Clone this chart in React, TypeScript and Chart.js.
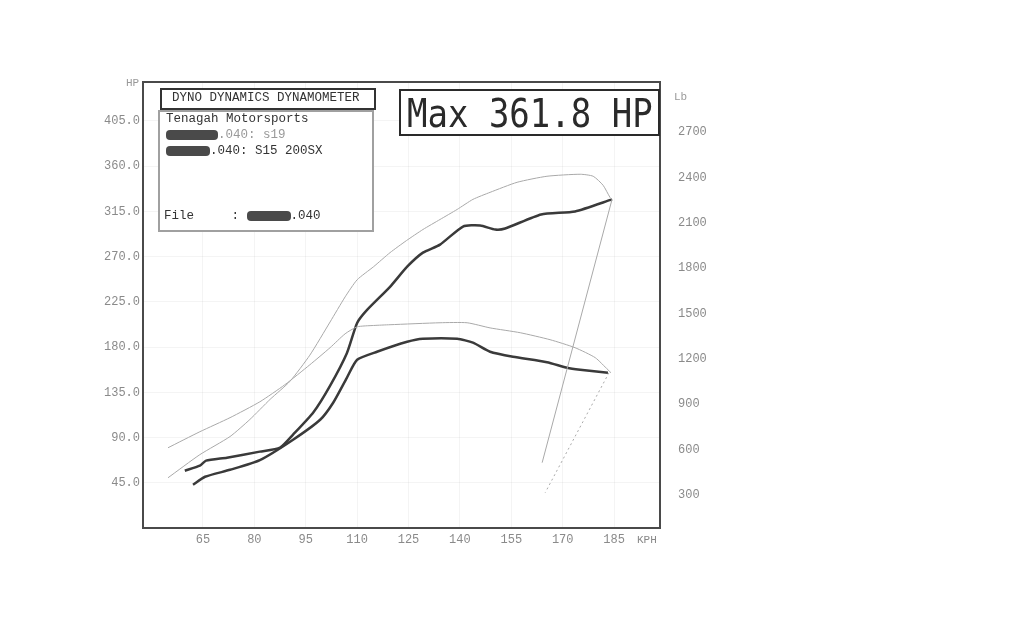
import React, { useEffect, useRef } from "react";
import { Chart, registerables } from "chart.js";
Chart.register(...registerables);

const speedTicks = [65, 80, 95, 110, 125, 140, 155, 170, 185];
const hpTicks = [45, 90, 135, 180, 225, 270, 315, 360, 405];
const lbTicks = [300, 600, 900, 1200, 1500, 1800, 2100, 2400, 2700];

const run1PowerKph = [54.8, 64.1, 72.9, 78.7, 84.6, 90.4, 96.2, 102.1, 106.5, 110.0, 114.8, 119.6, 124.4, 129.2, 134.2, 139.2, 143.8, 148.8, 156.7, 165.4, 175.1, 178.9, 181.8, 183.8, 184.4];
const run1PowerHp = [50, 73, 91, 108, 128, 146, 172, 205, 230, 247, 260, 274, 286, 297, 307, 317, 327, 334, 344, 350, 352, 350, 341, 329, 327];

const run2PowerKph = [59.7, 64.1, 65.9, 72.0, 81.6, 87.5, 91.3, 97.2, 102.0, 107.0, 110.0, 112.9, 119.6, 124.6, 129.2, 134.2, 140.9, 145.9, 150.3, 153.2, 163.7, 173.6, 184.4];
const run2PowerHp = [57, 62, 67, 70, 76, 80, 93, 115, 141, 174, 204, 217, 240, 260, 274, 282, 300, 301, 297, 298, 312, 315, 327];

const run1TorqueKph = [54.8, 64.1, 72.9, 81.6, 88.9, 96.2, 102.1, 106.5, 110.0, 114.8, 119.6, 134.2, 142.1, 148.8, 157.6, 166.3, 173.6, 179.5, 183.2, 184.1];
const run1TorqueLb = [611, 717, 810, 915, 1028, 1160, 1273, 1365, 1411, 1420, 1425, 1438, 1438, 1404, 1372, 1326, 1273, 1207, 1127, 1107];

const run2TorqueKph = [62.1, 65.6, 72.9, 81.6, 91.3, 99.2, 103.0, 107.0, 110.0, 115.8, 124.6, 129.2, 139.2, 143.8, 148.8, 155.5, 165.4, 171.3, 175.1, 183.2];
const run2TorqueLb = [366, 419, 465, 529, 664, 796, 909, 1074, 1193, 1246, 1312, 1332, 1332, 1306, 1246, 1213, 1177, 1140, 1127, 1107];

const coastPowerKph = [184.4, 164.0];
const coastPowerHp = [327, 65];
const coastTorqueKph = [183.5, 164.9];
const coastTorqueLb = [1107, 314];

const pts = (xs: number[], ys: number[]) => xs.map((x, i) => ({ x, y: ys[i] }));

const DARK = "#3a3a3a";
const LIGHT = "#a9a9a9";
const MONO = "'Liberation Mono', 'DejaVu Sans Mono', monospace";

const framePlugin = {
  id: "frame",
  afterDraw(chart: any) {
    const { ctx, chartArea } = chart;
    ctx.save();
    ctx.strokeStyle = "#4a4a4a";
    ctx.lineWidth = 2;
    ctx.strokeRect(chartArea.left, chartArea.top, chartArea.right - chartArea.left, chartArea.bottom - chartArea.top);
    ctx.restore();
  },
};

function Blob({ w }: { w: number }) {
  return (
    <span
      style={{
        display: "inline-block",
        width: w,
        height: 10,
        background: "#4a4a4a",
        borderRadius: 4,
        verticalAlign: "middle",
        filter: "blur(0.7px)",
      }}
    />
  );
}

export default function App() {
  const ref = useRef<HTMLCanvasElement | null>(null);
  useEffect(() => {
    if (!ref.current) return;
    const tickFont = { family: MONO, size: 12 };
    const chart = new Chart(ref.current, {
      type: "line",
      data: {
        datasets: [
          { label: "Run 1 power", data: pts(run1PowerKph, run1PowerHp), borderColor: LIGHT, borderWidth: 1, pointRadius: 0, tension: 0.2, yAxisID: "y" },
          { label: "Run 1 coast power", data: pts(coastPowerKph, coastPowerHp), borderColor: LIGHT, borderWidth: 1, pointRadius: 0, tension: 0, yAxisID: "y" },
          { label: "Run 1 tractive", data: pts(run1TorqueKph, run1TorqueLb), borderColor: LIGHT, borderWidth: 1, pointRadius: 0, tension: 0.2, yAxisID: "y1" },
          { label: "Run 1 coast tractive", data: pts(coastTorqueKph, coastTorqueLb), borderColor: LIGHT, borderWidth: 1, borderDash: [2, 3], pointRadius: 0, tension: 0, yAxisID: "y1" },
          { label: "Run 2 power", data: pts(run2PowerKph, run2PowerHp), borderColor: DARK, borderWidth: 2.5, pointRadius: 0, tension: 0.2, yAxisID: "y" },
          { label: "Run 2 tractive", data: pts(run2TorqueKph, run2TorqueLb), borderColor: DARK, borderWidth: 2.5, pointRadius: 0, tension: 0.2, yAxisID: "y1" },
        ],
      },
      options: {
        animation: false,
        responsive: false,
        maintainAspectRatio: false,
        layout: { padding: { top: 82, left: 0, right: 0, bottom: 0 } },
        plugins: { legend: { display: false }, tooltip: { enabled: false } },
        scales: {
          x: {
            type: "linear",
            min: 47.5,
            max: 198.4,
            afterBuildTicks: (s: any) => { s.ticks = speedTicks.map((v) => ({ value: v })); },
            afterFit: (s: any) => { s.height = 94; },
            grid: { color: "rgba(0,0,0,0.045)", drawTicks: false },
            border: { display: false },
            ticks: { color: "#8a8a8a", font: tickFont, padding: 5, autoSkip: false, maxRotation: 0, callback: (v: any) => String(v) },
          },
          y: {
            position: "left",
            min: 0,
            max: 443.8,
            afterBuildTicks: (s: any) => { s.ticks = hpTicks.map((v) => ({ value: v })); },
            afterFit: (s: any) => { s.width = 143; },
            grid: { color: "rgba(0,0,0,0.045)", drawTicks: false },
            border: { display: false },
            ticks: { color: "#8a8a8a", font: tickFont, padding: 3, callback: (v: any) => Number(v).toFixed(1) },
          },
          y1: {
            position: "right",
            min: 80,
            max: 3031,
            afterBuildTicks: (s: any) => { s.ticks = lbTicks.map((v) => ({ value: v })); },
            afterFit: (s: any) => { s.width = 364; },
            grid: { display: false, drawTicks: false },
            border: { display: false },
            ticks: { color: "#8a8a8a", font: tickFont, padding: 18, callback: (v: any) => String(v) },
          },
        },
      },
      plugins: [framePlugin],
    } as any);
    return () => chart.destroy();
  }, []);

  const txt: React.CSSProperties = { position: "absolute", fontFamily: MONO, fontSize: 12.5, lineHeight: "13px", color: "#333", whiteSpace: "pre" };

  return (
    <div style={{ position: "fixed", left: 0, top: 0, width: 1024, height: 622, background: "#fff" }}>
      <canvas ref={ref} width={1024} height={622} style={{ position: "absolute", left: 0, top: 0, width: 1024, height: 622 }} />
      <div style={{ ...txt, left: 126, top: 77, fontSize: 11, color: "#999" }}>HP</div>
      <div style={{ ...txt, left: 674, top: 91, fontSize: 11, color: "#999" }}>Lb</div>
      <div style={{ ...txt, left: 637, top: 534, fontSize: 11, color: "#888" }}>KPH</div>

      <div style={{ position: "absolute", left: 160, top: 88, width: 212, height: 18, border: "2px solid #333", background: "#fff" }} />
      <div style={{ ...txt, left: 172, top: 92 }}>DYNO DYNAMICS DYNAMOMETER</div>

      <div style={{ position: "absolute", left: 158, top: 110, width: 212, height: 118, border: "2px solid #a0a0a0", background: "#fff" }} />
      <div style={{ ...txt, left: 166, top: 113 }}>Tenagah Motorsports</div>
      <div style={{ ...txt, left: 166, top: 129, color: "#999" }}><Blob w={52} />.040: s19</div>
      <div style={{ ...txt, left: 166, top: 145 }}><Blob w={44} />.040: S15 200SX</div>
      <div style={{ ...txt, left: 164, top: 210 }}>File     : <Blob w={44} />.040</div>

      <div style={{ position: "absolute", left: 399, top: 89, width: 257, height: 43, border: "2.5px solid #2a2a2a", background: "#fff" }} />
      <div style={{ position: "absolute", left: 407, top: 93, fontFamily: "'DejaVu Sans Mono', monospace", fontSize: 34, lineHeight: "34px", color: "#2a2a2a", whiteSpace: "pre", transform: "scaleY(1.17)", transformOrigin: "top left", letterSpacing: 0 }}>Max 361.8 HP</div>
    </div>
  );
}
